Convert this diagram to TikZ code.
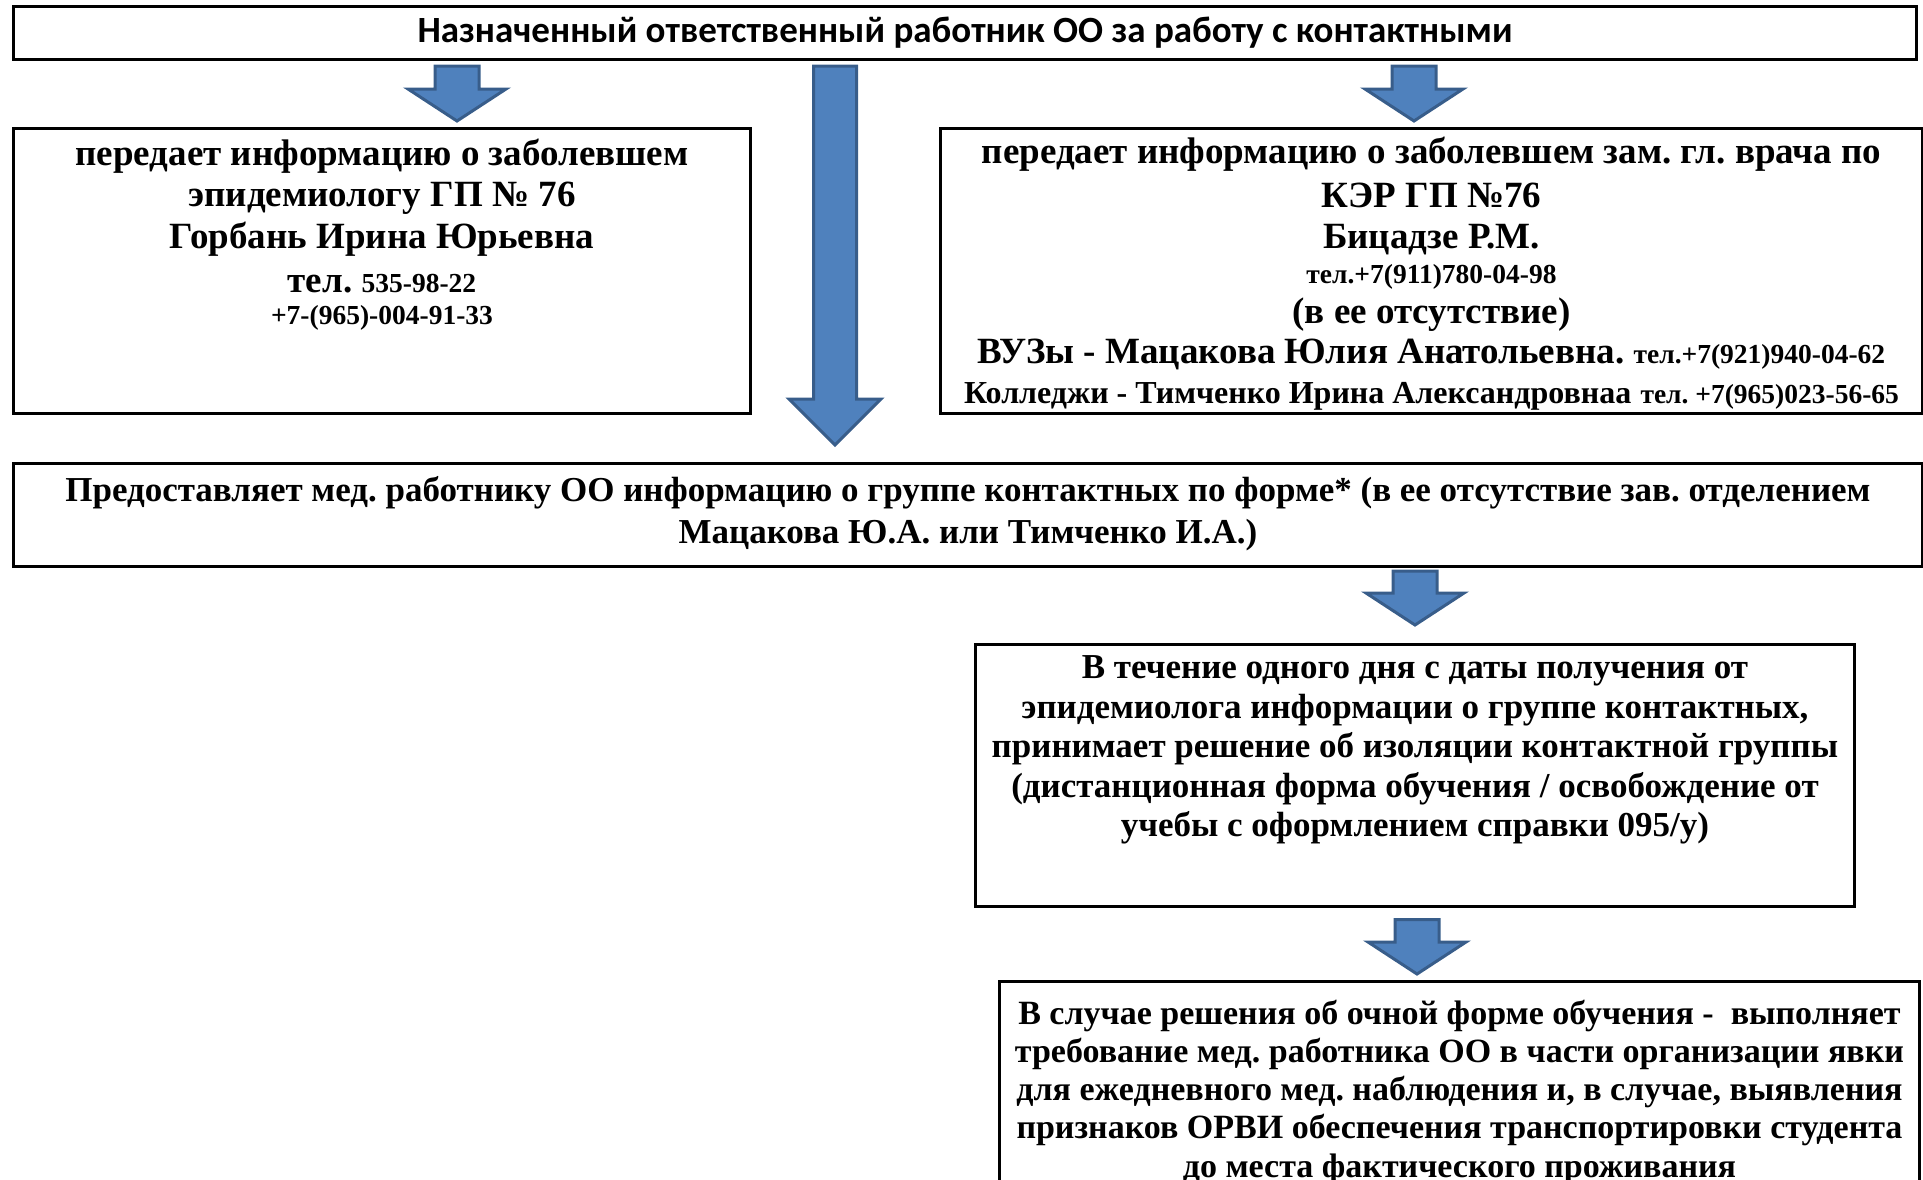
\documentclass[tikz,border=0pt]{standalone}
\usepackage{fontspec}
\setmainfont{Liberation Serif}
\newfontfamily\titlefont{Carlito}
\usetikzlibrary{calc}
\frenchspacing

\definecolor{arrowfill}{RGB}{79,129,189}
\definecolor{arrowline}{RGB}{56,93,138}

\tikzset{
	frame/.style={draw=black, line width=3pt, fill=white, inner sep=0pt},
	txt/.style={align=center, inner sep=0pt, font=\bfseries\fontsize{37}{41.5}\selectfont},
	barrow/.style={fill=arrowfill, draw=arrowline, line width=3pt}
}

% block arrow: #1 = x, #2 = from, #3 = to
\newcommand{\shafthw}{22}
\newcommand{\headhw}{49}
\newcommand{\headlen}{32}
\newcommand{\blockarrow}[3]{%
	\path[barrow] let \p1=#2, \p2=#3 in
	(#1pt-\shafthw pt,\y1) -- (#1pt+\shafthw pt,\y1) -- (#1pt+\shafthw pt,\y2+\headlen pt)
	-- (#1pt+\headhw pt,\y2+\headlen pt) -- (#1pt,\y2) -- (#1pt-\headhw pt,\y2+\headlen pt)
	-- (#1pt-\shafthw pt,\y2+\headlen pt) -- cycle;}

\newcommand{\smalltel}[1]{{\fontsize{27.5}{30}\selectfont #1}}

\begin{document}
\begin{tikzpicture}[x=1pt, y=-1pt]
	\useasboundingbox (0,0) rectangle (1923,1179);
	\clip (0,0) rectangle (1923,1179);
	
	% boxes
	\node[frame, anchor=north west, minimum width=1903pt, minimum height=53pt,
		font=\titlefont\bfseries\fontsize{37}{40}\selectfont] (title) at (12,5)
		{Назначенный ответственный работник ОО за работу с контактными};
	\node[frame, anchor=north west, minimum width=737pt, minimum height=285pt] (epid) at (12,127) {};
	\node[frame, anchor=north west, minimum width=982pt, minimum height=285pt] (zam) at (939,127) {};
	\node[frame, anchor=north west, minimum width=1909pt, minimum height=103pt] (mid) at (12,462) {};
	\node[frame, anchor=north west, minimum width=879pt, minimum height=262pt] (decide) at (974,643) {};
	\node[frame, anchor=north west, minimum width=920pt, minimum height=250pt] (daily) at (998,980) {};
	
	% texts
	\node[txt, anchor=north] (epidtext) at ([yshift=-9pt]epid.north)
		{\strut передает информацию о заболевшем\\[-0.5pt]
		эпидемиологу ГП № 76\\[0.5pt]
		Горбань Ирина Юрьевна\\[2.5pt]
		тел. \smalltel{535-98-22}\\[-9.5pt]
		\smalltel{+7-(965)-004-91-33}};
	\node[txt, anchor=north] (zamtext) at ([yshift=-7pt]zam.north)
		{\strut передает информацию о заболевшем зам. гл. врача по\\[2.5pt]
		КЭР ГП №76\\[-0.5pt]
		Бицадзе Р.М.\\[-6.5pt]
		\smalltel{тел.+7(911)780-04-98}\\[-1.5pt]
		(в ее отсутствие)\\[-1pt]
		ВУЗы - Мацакова Юлия Анатольевна. \smalltel{тел.+7(921)940-04-62}\\[-2pt]
		{\fontsize{32}{34}\selectfont Колледжи - Тимченко Ирина Александровнаа} \smalltel{тел. +7(965)023-56-65}};
	\node[txt, anchor=north, font=\bfseries\fontsize{35}{41.7}\selectfont] (midtext) at ([yshift=-10pt]mid.north)
		{\strut Предоставляет мед. работнику ОО информацию о группе контактных по форме* (в ее отсутствие зав. отделением\\
		Мацакова Ю.А. или Тимченко И.А.)};
	\node[txt, anchor=north, font=\bfseries\fontsize{35}{39.6}\selectfont] (decidetext) at ([yshift=-7.5pt]decide.north)
		{\strut В течение одного дня с даты получения от\\
		эпидемиолога информации о группе контактных,\\
		принимает решение об изоляции контактной группы\\
		(дистанционная форма обучения / освобождение от\\
		учебы с оформлением справки 095/у)};
	\node[txt, anchor=north, font=\bfseries\fontsize{34}{38.3}\selectfont] (dailytext) at ([yshift=-17pt]daily.north)
		{\strut В случае решения об очной форме обучения -~ выполняет\\
		требование мед. работника ОО в части организации явки\\
		для ежедневного мед. наблюдения и, в случае, выявления\\
		признаков ОРВИ обеспечения транспортировки студента\\
		до места фактического проживания};
	
	% arrows
	\blockarrow{457}{([yshift=-5pt]title.south)}{([yshift=6pt]epid.north)}
	\blockarrow{1414}{([yshift=-5pt]title.south)}{([yshift=6pt]zam.north)}
	{\renewcommand{\shafthw}{21.5}\renewcommand{\headhw}{46}\renewcommand{\headlen}{46}%
	\blockarrow{835}{([yshift=-5pt]title.south)}{([yshift=17pt]mid.north)}}
	\blockarrow{1415}{([yshift=-3pt]mid.south)}{([yshift=18pt]decide.north)}
	\blockarrow{1417}{([yshift=-11.5pt]decide.south)}{([yshift=6pt]daily.north)}
\end{tikzpicture}
\end{document}
